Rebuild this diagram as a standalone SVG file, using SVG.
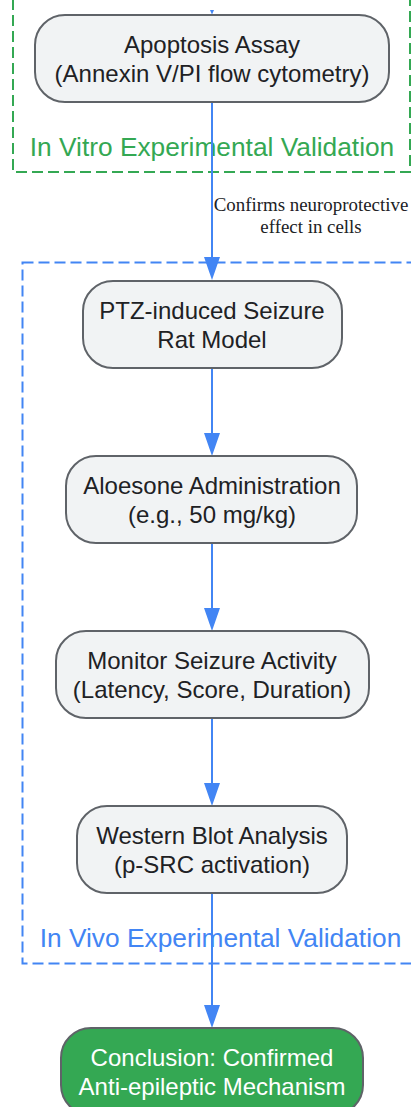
<svg xmlns="http://www.w3.org/2000/svg" width="411" height="1107" viewBox="0 0 411 1107">
  <style>
    .cluster{fill:none;stroke-width:2;stroke-dasharray:11,5}
    .vitro{stroke:#34a853}
    .vivo{stroke:#4285f4}
    .clabel{font-family:"Liberation Sans",Arial,sans-serif;font-size:26.3px;text-anchor:middle}
    .node rect{fill:#f1f3f4;stroke:#5f6368;stroke-width:2}
    .node text{font-family:"Liberation Sans",Arial,sans-serif;font-size:24px;fill:#202124;text-anchor:middle}
    .final rect{fill:#34a853;stroke:#5f6368;stroke-width:2}
    .final text{fill:#ffffff}
    .edge{stroke:#4285f4;stroke-width:2;fill:none}
    .head{fill:#4285f4}
    .elabel{font-family:"Liberation Serif","Times New Roman",serif;font-size:18.9px;fill:#202124;text-anchor:middle}
  </style>
  <rect width="411" height="1107" fill="#ffffff"/>
  <g id="clusters">
    <g id="cluster-invitro">
      <rect class="cluster vitro" x="13" y="-200" width="397" height="372"/>
      <text class="clabel" x="212" y="156" fill="#34a853">In Vitro Experimental Validation</text>
    </g>
    <g id="cluster-invivo">
      <rect class="cluster vivo" x="22.5" y="262.5" width="420" height="701"/>
      <text class="clabel" x="220.5" y="946.5" fill="#4285f4">In Vivo Experimental Validation</text>
    </g>
  </g>
  <g id="connectors">
    <polygon class="head" points="210,10 214,10 212,14.5"/>
    <line class="edge" x1="212" y1="101" x2="212" y2="258"/>
    <polygon class="head" points="204,257 220,257 212,280"/>
    <text class="elabel" x="311" y="211">Confirms neuroprotective</text>
    <text class="elabel" x="311" y="233">effect in cells</text>
    <line class="edge" x1="212" y1="368" x2="212" y2="434"/>
    <polygon class="head" points="204,433 220,433 212,456"/>
    <line class="edge" x1="212" y1="543" x2="212" y2="609"/>
    <polygon class="head" points="204,608 220,608 212,631"/>
    <line class="edge" x1="212" y1="718" x2="212" y2="784"/>
    <polygon class="head" points="204,783 220,783 212,806"/>
    <line class="edge" x1="212" y1="893" x2="212" y2="1006"/>
    <polygon class="head" points="204,1005 220,1005 212,1028"/>
  </g>
  <g id="node-apoptosis" class="node">
    <rect x="35" y="15" width="354" height="87" rx="30"/>
    <text x="212" y="52.5">Apoptosis Assay</text>
    <text x="212" y="81.5">(Annexin V/PI flow cytometry)</text>
  </g>
  <g id="node-ptz" class="node">
    <rect x="83" y="281" width="259" height="87" rx="30"/>
    <text x="212" y="318.5">PTZ-induced Seizure</text>
    <text x="212" y="347.5">Rat Model</text>
  </g>
  <g id="node-aloesone" class="node">
    <rect x="66" y="456" width="291" height="87" rx="30"/>
    <text x="212" y="493.5">Aloesone Administration</text>
    <text x="212" y="522.5">(e.g., 50 mg/kg)</text>
  </g>
  <g id="node-monitor" class="node">
    <rect x="56" y="631" width="313" height="87" rx="30"/>
    <text x="212" y="668.5">Monitor Seizure Activity</text>
    <text x="212" y="697.5">(Latency, Score, Duration)</text>
  </g>
  <g id="node-western" class="node">
    <rect x="77" y="806" width="270" height="87" rx="30"/>
    <text x="212" y="843.5">Western Blot Analysis</text>
    <text x="212" y="872.5">(p-SRC activation)</text>
  </g>
  <g id="node-conclusion" class="node final">
    <rect x="61" y="1028" width="302" height="87" rx="30"/>
    <text x="212" y="1065.5">Conclusion: Confirmed</text>
    <text x="212" y="1094.5">Anti-epileptic Mechanism</text>
  </g>
</svg>
